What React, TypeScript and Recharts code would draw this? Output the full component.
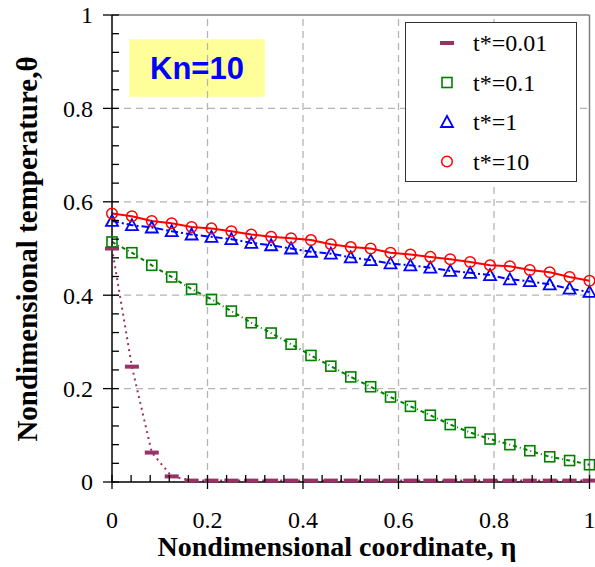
import React from "react";
import {
  LineChart,
  Line,
  XAxis,
  YAxis,
  ReferenceLine,
  ReferenceArea,
  Legend,
} from "recharts";

// eta = k/24
const eta = [
  0, 0.0417, 0.0833, 0.125, 0.1667, 0.2083, 0.25, 0.2917, 0.3333, 0.375,
  0.4167, 0.4583, 0.5, 0.5417, 0.5833, 0.625, 0.6667, 0.7083, 0.75, 0.7917,
  0.8333, 0.875, 0.9167, 0.9583, 1,
];
const t001 = [
  0.5, 0.247, 0.063, 0.012, 0.003, 0.003, 0.003, 0.003, 0.003, 0.003, 0.003,
  0.003, 0.003, 0.003, 0.003, 0.003, 0.003, 0.003, 0.003, 0.003, 0.003, 0.003,
  0.003, 0.003, 0.003,
];
const t01 = [
  0.514, 0.491, 0.464, 0.439, 0.413, 0.391, 0.366, 0.341, 0.319, 0.295, 0.271,
  0.248, 0.225, 0.204, 0.182, 0.162, 0.143, 0.123, 0.106, 0.092, 0.08, 0.067,
  0.054, 0.046, 0.037,
];
const t1 = [
  0.559, 0.55, 0.545, 0.537, 0.53, 0.525, 0.52, 0.512, 0.507, 0.5, 0.493,
  0.489, 0.481, 0.475, 0.468, 0.464, 0.459, 0.452, 0.448, 0.443, 0.434, 0.43,
  0.423, 0.414, 0.407,
];
const t10 = [
  0.575, 0.569, 0.559, 0.554, 0.546, 0.543, 0.537, 0.53, 0.525, 0.522, 0.518,
  0.509, 0.503, 0.5, 0.491, 0.487, 0.482, 0.477, 0.471, 0.464, 0.462, 0.454,
  0.449, 0.439, 0.431,
];

const ticks = [
  0, 0.04, 0.08, 0.12, 0.16, 0.2, 0.24, 0.28, 0.32, 0.36, 0.4, 0.44, 0.48,
  0.52, 0.56, 0.6, 0.64, 0.68, 0.72, 0.76, 0.8, 0.84, 0.88, 0.92, 0.96, 1,
];
const gridValues = [0.2, 0.4, 0.6, 0.8];

const series = [
  { key: "t001", name: "t*=0.01", color: "#993366", dash: "2 4", marker: "dash" },
  { key: "t01", name: "t*=0.1", color: "#008000", dash: "4 3 1 3", marker: "square" },
  { key: "t1", name: "t*=1", color: "#0000FF", dash: "7 3 2 3", marker: "triangle" },
  { key: "t10", name: "t*=10", color: "#FF0000", dash: undefined, marker: "circle" },
];

const data = eta.map((x, i) => ({
  eta: x,
  t001: t001[i],
  t01: t01[i],
  t1: t1[i],
  t10: t10[i],
}));

const serif = '"Liberation Serif", "Times New Roman", serif';
const serifStyle = { fontFamily: serif };

const drawMarker = (type: string, color: string, cx: number, cy: number) => {
  if (type === "dash")
    return <rect x={cx - 7} y={cy - 2} width={14} height={4} fill={color} />;
  if (type === "square")
    return (
      <rect x={cx - 5} y={cy - 5} width={10} height={10} fill="none" stroke={color} strokeWidth={1.6} />
    );
  if (type === "triangle")
    return (
      <polygon
        points={`${cx},${cy - 6} ${cx + 6},${cy + 5} ${cx - 6},${cy + 5}`}
        fill="none"
        stroke={color}
        strokeWidth={1.8}
      />
    );
  return <circle cx={cx} cy={cy} r={5.3} fill="none" stroke={color} strokeWidth={1.5} />;
};

const makeDot = (type: string, color: string) => (p: any) => {
  if (p.cx == null || p.cy == null) return <g key={p.key} />;
  return <g key={p.key}>{drawMarker(type, color, p.cx, p.cy)}</g>;
};

const isMajor = (v: number) => Math.abs(v * 5 - Math.round(v * 5)) < 1e-6;
const fmt = (v: number) => (v === 0 ? "0" : v === 1 ? "1" : v.toFixed(1));

const YTick = (props: any) => {
  const { x, y, payload } = props;
  const major = isMajor(payload.value);
  return (
    <g>
      <line x1={major ? x - 9 : x} x2={x + 7} y1={y} y2={y} stroke="#000" strokeWidth={1.3} />
      {major && (
        <text x={x - 19} y={y} dy="0.35em" textAnchor="end" style={serifStyle} fontSize={24} fill="#000">
          {fmt(payload.value)}
        </text>
      )}
    </g>
  );
};

const XTick = (props: any) => {
  const { x, y, payload } = props;
  const major = isMajor(payload.value);
  return (
    <g>
      <line x1={x} x2={x} y1={major ? y + 7 : y} y2={y - 7} stroke="#000" strokeWidth={1.3} />
      {major && (
        <text x={x} y={y + 46} textAnchor="middle" style={serifStyle} fontSize={24} fill="#000">
          {fmt(payload.value)}
        </text>
      )}
    </g>
  );
};

const LegendBox = () => (
  <svg width={172} height={160} style={{ display: "block" }}>
    <rect x={0.5} y={0.5} width={171} height={159} fill="#fff" stroke="#333" strokeWidth={1} />
    {series.map((s, i) => {
      const cy = 21 + i * 39.5;
      return (
        <g key={s.key}>
          {drawMarker(s.marker, s.color, 42, cy)}
          <text x={68} y={cy} dy="0.35em" style={serifStyle} fontSize={24} fill="#000">
            {s.name}
          </text>
        </g>
      );
    })}
  </svg>
);

export default function App() {
  return (
    <div style={{ position: "absolute", left: 0, top: 0 }}>
      <LineChart
        width={595}
        height={567}
        data={data}
        margin={{ top: 15, right: 5.5, bottom: 0, left: 0 }}
      >
        {gridValues.map((v) => (
          <ReferenceLine key={`gy${v}`} y={v} stroke="#b4b4b4" strokeWidth={1.3} strokeDasharray="7 5" />
        ))}
        {gridValues.map((v) => (
          <ReferenceLine key={`gx${v}`} x={v} stroke="#b4b4b4" strokeWidth={1.3} strokeDasharray="7 5" />
        ))}
        <ReferenceLine y={1} stroke="#808080" strokeWidth={1.5} />
        <ReferenceLine x={1} stroke="#808080" strokeWidth={1.5} />
        <ReferenceArea
          x1={0.036}
          x2={0.32}
          y1={0.825}
          y2={0.948}
          fill="#FFFF99"
          fillOpacity={1}
          stroke="none"
          label={{
            value: "Kn=10",
            position: "center",
            fill: "#0000FF",
            fontSize: 31,
            fontWeight: "bold",
            fontFamily: '"Liberation Sans", Arial, sans-serif',
          }}
        />
        <XAxis
          dataKey="eta"
          type="number"
          domain={[0, 1]}
          ticks={ticks}
          interval={0}
          height={85}
          tickSize={0}
          tickMargin={0}
          tick={<XTick />}
          tickLine={false}
          axisLine={{ stroke: "#000", strokeWidth: 1.5 }}
          label={() => (
            <text x={337} y={556} textAnchor="middle" style={serifStyle} fontWeight="bold" fontSize={28} fill="#000">
              Nondimensional coordinate, η
            </text>
          )}
        />
        <YAxis
          type="number"
          domain={[0, 1]}
          ticks={ticks}
          interval={0}
          width={112}
          tickSize={0}
          tickMargin={0}
          tick={<YTick />}
          tickLine={false}
          axisLine={{ stroke: "#000", strokeWidth: 1.5 }}
          label={() => (
            <text
              x={37}
              y={249}
              transform="rotate(-90 37 249)"
              textAnchor="middle"
              style={serifStyle}
              fontWeight="bold"
              fontSize={29}
              fill="#000"
            >
              Nondimensional temperature,θ
            </text>
          )}
        />
        {series.map((s) => (
          <Line
            key={s.key}
            dataKey={s.key}
            name={s.name}
            type="linear"
            stroke={s.color}
            strokeWidth={2}
            strokeDasharray={s.dash}
            dot={makeDot(s.marker, s.color)}
            activeDot={false}
            isAnimationActive={false}
          />
        ))}
        <Legend
          layout="vertical"
          align="center"
          verticalAlign="middle"
          content={<LegendBox />}
          wrapperStyle={{ left: 405, top: 22, width: 172, height: 160 }}
        />
      </LineChart>
    </div>
  );
}
